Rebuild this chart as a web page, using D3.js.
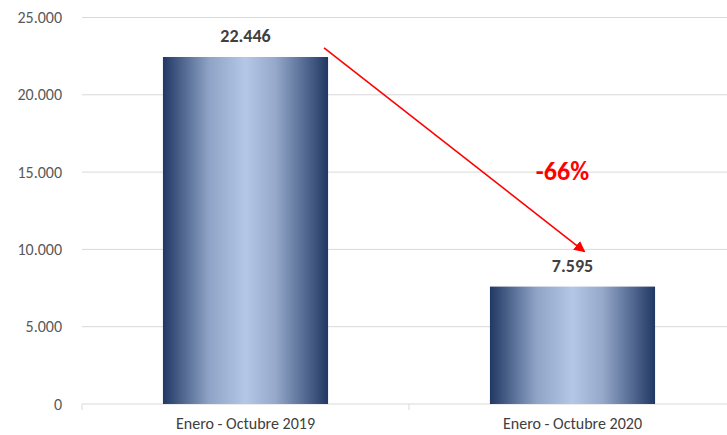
<!DOCTYPE html>
<html>
<head>
<meta charset="utf-8">
<script src="https://cdn.jsdelivr.net/npm/d3@7"></script>
<style>
  body { margin: 0; background: #fff; }
  svg { display: block; font-family: Carlito, Calibri, Lato, sans-serif; }
</style>
</head>
<body>
<svg width="727" height="435"></svg>
<script>
// Chart data
const categories = ['Enero - Octubre 2019', 'Enero - Octubre 2020'];
const values = [22446, 7595];
const yTicks = [0, 5000, 10000, 15000, 20000, 25000];
const changeLabel = '-66%';

const svg = d3.select('svg');
const margin = {
  top: 17.5, right: -9, bottom: 31, left: 82,
};
const width = +svg.attr('width');
const height = +svg.attr('height');
const innerWidth = width - margin.left - margin.right;
const innerHeight = height - margin.top - margin.bottom;

const fmt = (v) => d3.format(',')(v).replace(/,/g, '.');

// Bar gradient
const defs = svg.append('defs');
const grad = defs.append('linearGradient')
  .attr('id', 'barGrad')
  .attr('x1', '0%').attr('x2', '100%')
  .attr('y1', '0%').attr('y2', '0%');
[[0, '#203864'], [0.28, '#8fa3c6'], [0.5, '#b4c7e7'], [0.68, '#96a9cb'], [1, '#203864']]
  .forEach(([o, c]) => grad.append('stop').attr('offset', o).attr('stop-color', c));

defs.append('marker')
  .attr('id', 'arrowHead')
  .attr('viewBox', '0 0 10 10')
  .attr('refX', 9).attr('refY', 5)
  .attr('markerWidth', 7).attr('markerHeight', 7)
  .attr('markerUnits', 'strokeWidth')
  .attr('orient', 'auto')
  .append('path')
  .attr('d', 'M0,0 L10,5 L0,10 z')
  .attr('fill', '#ff0000');

const g = svg.append('g')
  .attr('transform', `translate(${margin.left},${margin.top})`);

// Scales
const xScale = d3.scaleBand()
  .domain(categories)
  .range([0, innerWidth])
  .paddingInner(0.495)
  .paddingOuter(0.2475);

const yScale = d3.scaleLinear()
  .domain([0, 25000])
  .range([innerHeight, 0]);

// Gridlines
g.selectAll('.grid')
  .data(yTicks.filter((d) => d > 0))
  .enter()
  .append('line')
  .attr('x1', 0)
  .attr('x2', innerWidth)
  .attr('y1', (d) => yScale(d))
  .attr('y2', (d) => yScale(d))
  .attr('stroke', '#d9d9d9')
  .attr('stroke-width', 1);

// Y axis labels
const yAxis = d3.axisLeft(yScale)
  .tickValues(yTicks)
  .tickFormat(fmt)
  .tickSize(0)
  .tickPadding(20);
const yAxisG = g.append('g').call(yAxis);
yAxisG.select('.domain').remove();
yAxisG.selectAll('text')
  .attr('fill', '#595959')
  .attr('font-size', '16px')
  .attr('font-family', 'Carlito, Calibri, Lato, sans-serif');

// X axis
const xAxisG = g.append('g')
  .attr('transform', `translate(0,${innerHeight})`);
xAxisG.append('line')
  .attr('x1', 0).attr('x2', innerWidth)
  .attr('y1', 0).attr('y2', 0)
  .attr('stroke', '#d9d9d9');
const bounds = [0, xScale.step()];
xAxisG.selectAll('.sep')
  .data(bounds)
  .enter()
  .append('line')
  .attr('x1', (d) => d).attr('x2', (d) => d)
  .attr('y1', 0).attr('y2', 6)
  .attr('stroke', '#d9d9d9');
xAxisG.selectAll('.cat')
  .data(categories)
  .enter()
  .append('text')
  .attr('x', (d) => xScale(d) + xScale.bandwidth() / 2)
  .attr('y', 25)
  .attr('text-anchor', 'middle')
  .attr('fill', '#404040')
  .attr('font-size', '16px')
  .text((d) => d);

// Bars
const data = categories.map((c, i) => ({ cat: c, value: values[i] }));
g.selectAll('.bar')
  .data(data)
  .enter()
  .append('rect')
  .attr('class', 'bar')
  .attr('x', (d) => xScale(d.cat))
  .attr('y', (d) => yScale(d.value))
  .attr('width', xScale.bandwidth())
  .attr('height', (d) => innerHeight - yScale(d.value))
  .attr('fill', 'url(#barGrad)');

// Value labels
g.selectAll('.val')
  .data(data)
  .enter()
  .append('text')
  .attr('x', (d) => xScale(d.cat) + xScale.bandwidth() / 2)
  .attr('y', (d) => yScale(d.value) - 15)
  .attr('text-anchor', 'middle')
  .attr('fill', '#404040')
  .attr('font-size', '18px')
  .attr('font-weight', 'bold')
  .text((d) => fmt(d.value));

// Change arrow
const a = data[0];
const b = data[1];
const x1 = xScale(a.cat) + xScale.bandwidth() - 4;
const y1 = yScale(a.value) - 9;
const x2 = xScale(b.cat) + xScale.bandwidth() / 2 + 12;
const y2 = yScale(b.value) - 35;
g.append('line')
  .attr('x1', x1).attr('y1', y1)
  .attr('x2', x2).attr('y2', y2)
  .attr('stroke', '#ff0000')
  .attr('stroke-width', 1.6)
  .attr('marker-end', 'url(#arrowHead)');

g.append('text')
  .attr('x', xScale(b.cat) + xScale.bandwidth() / 2 - 10)
  .attr('y', yScale(b.value) - 107)
  .attr('text-anchor', 'middle')
  .attr('fill', '#ff0000')
  .attr('font-size', '26px')
  .attr('font-weight', 'bold')
  .text(changeLabel);
</script>
</body>
</html>
